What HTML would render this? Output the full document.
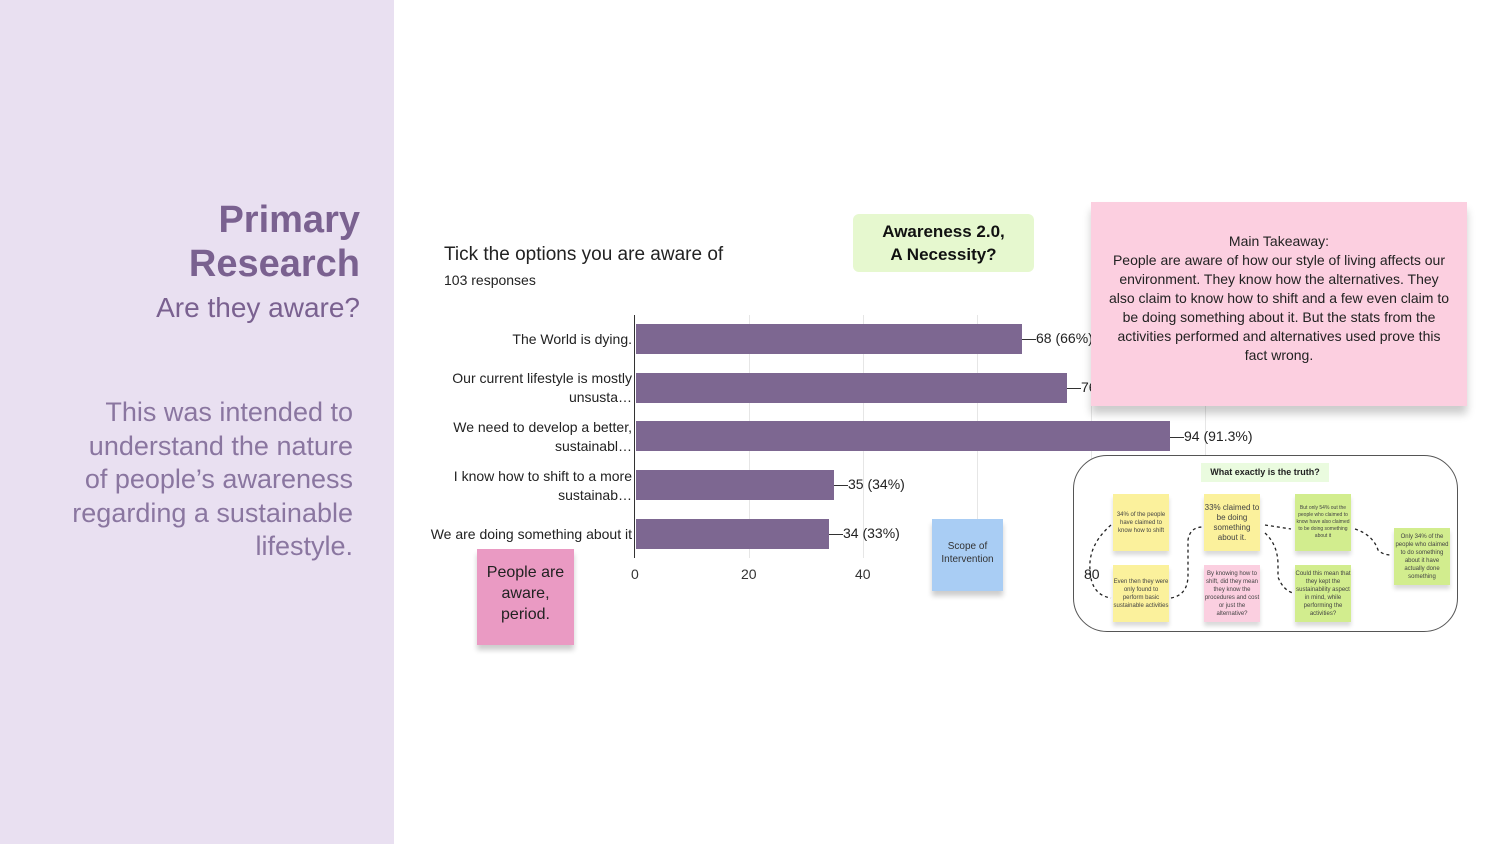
<!DOCTYPE html>
<html><head><style>
*{margin:0;padding:0;box-sizing:border-box}
body{width:1500px;height:844px;position:relative;background:#fff;font-family:"Liberation Sans",sans-serif;overflow:hidden}
.a{position:absolute}
.side{left:0;top:0;width:394px;height:844px;background:#e9e0f1}
.r{text-align:right}
.bar{position:absolute;left:636px;height:30px;background:#7d6791}
.lbl{position:absolute;right:868px;font-size:14px;color:#222;text-align:right;line-height:19px}
.val{position:absolute;font-size:14px;color:#222}
.tick{position:absolute;top:566px;font-size:14px;color:#333}
.grid{position:absolute;top:315px;width:1px;height:243px;background:#e6e6e6}
.n{position:absolute;font-size:6px;color:#444;text-align:center;display:flex;align-items:center;justify-content:center;line-height:8px;box-shadow:0 4px 4px rgba(0,0,0,.15)}
</style></head><body>
<div class="a side"></div>
<div class="a r" style="right:1140px;top:198px;font-size:38px;font-weight:bold;color:#7a6190;line-height:44px">Primary<br>Research</div>
<div class="a r" style="right:1140px;top:292px;font-size:28px;color:#7a6190">Are they aware?</div>
<div class="a r" style="right:1147px;top:396px;font-size:27px;color:#8a76a0;line-height:33.5px;font-weight:300">This was intended to<br>understand the nature<br>of people’s awareness<br>regarding a sustainable<br>lifestyle.</div>

<div class="a" style="left:444px;top:244px;font-size:19px;color:#222">Tick the options you are aware of</div>
<div class="a" style="left:444px;top:272px;font-size:14px;color:#222">103 responses</div>

<div class="grid" style="left:749px"></div><div class="grid" style="left:863px"></div><div class="grid" style="left:977px"></div><div class="grid" style="left:1091px"></div><div class="grid" style="left:1205px"></div>
<div class="a" style="left:634px;top:315px;width:1px;height:243px;background:#333"></div>

<div class="bar" style="top:324px;width:386px"></div>
<div class="bar" style="top:373px;width:431px"></div>
<div class="bar" style="top:421px;width:534px"></div>
<div class="bar" style="top:470px;width:198px"></div>
<div class="bar" style="top:519px;width:193px"></div>

<div class="lbl" style="top:330px">The World is dying.</div>
<div class="lbl" style="top:369px">Our current lifestyle is mostly<br>unsusta…</div>
<div class="lbl" style="top:418px">We need to develop a better,<br>sustainabl…</div>
<div class="lbl" style="top:467px">I know how to shift to a more<br>sustainab…</div>
<div class="lbl" style="top:525px">We are doing something about it</div>

<div class="val" style="left:1022px;top:330px">—68 (66%)</div>
<div class="val" style="left:1067px;top:379px">—76 (73.8%)</div>
<div class="val" style="left:1170px;top:428px">—94 (91.3%)</div>
<div class="val" style="left:834px;top:476px">—35 (34%)</div>
<div class="val" style="left:829px;top:525px">—34 (33%)</div>

<div class="tick" style="left:631px">0</div>
<div class="tick" style="left:741px">20</div>
<div class="tick" style="left:855px">40</div>

<div class="a" style="left:853px;top:214px;width:181px;height:58px;background:#e6f8cf;border-radius:6px;font-size:17px;font-weight:bold;text-align:center;color:#111;padding-top:6px;line-height:23px">Awareness 2.0,<br>A Necessity?</div>

<div class="a" style="left:1091px;top:202px;width:376px;height:204px;background:#fccfe0;box-shadow:0 8px 8px rgba(0,0,0,.2);font-size:14px;color:#222;text-align:center;line-height:19px;padding:30px 16px 0">Main Takeaway:<br>People are aware of how our style of living affects our environment. They know how the alternatives. They also claim to know how to shift and a few even claim to be doing something about it. But the stats from the activities performed and alternatives used prove this fact wrong.</div>

<div class="a" style="left:477px;top:549px;width:97px;height:96px;background:#ea9ac3;box-shadow:0 5px 5px rgba(0,0,0,.2);font-size:16px;color:#222;text-align:center;line-height:21px;padding-top:13px">People are<br>aware,<br>period.</div>
<div class="a" style="left:932px;top:519px;width:71px;height:72px;background:#a9cdf4;box-shadow:0 5px 5px rgba(0,0,0,.2);font-size:10px;color:#333;text-align:center;line-height:13px;padding-top:21px">Scope of<br>Intervention</div>

<div class="a" style="left:1073px;top:455px;width:385px;height:177px;border:1.5px solid #555;border-radius:34px;background:#fff"></div>
<div class="a" style="left:1201px;top:463px;width:128px;height:19px;background:#eafbdf;font-size:9px;font-weight:bold;text-align:center;line-height:19px;color:#222">What exactly is the truth?</div>
<div class="a" style="left:1084px;top:566px;font-size:14px;color:#222">80</div>
<svg class="a" style="left:1073px;top:455px" width="385" height="177"><g fill="none" stroke="#222" stroke-dasharray="3,3" stroke-width="1.3">
<path d="M38 70 Q15 90 17 115 Q18 140 38 143"/><path d="M98 143 Q115 140 115 120 L115 85 Q117 72 130 72"/><path d="M192 70 L218 74"/><path d="M192 78 Q205 90 205 110 L205 122 Q210 135 220 138"/><path d="M282 74 Q300 80 305 95 Q310 100 318 100"/></g></svg>
<div class="n" style="left:1113px;top:494px;width:56px;height:57px;background:#fbf19c">34% of the people have claimed to know how to shift</div>
<div class="n" style="left:1204px;top:494px;width:56px;height:57px;background:#fbf19c;font-size:8px;line-height:10px">33% claimed to be doing something about it.</div>
<div class="n" style="left:1295px;top:494px;width:56px;height:57px;background:#d2ed8e;font-size:5px;line-height:7px">But only 54% out the people who claimed to know have also claimed to be doing something about it</div>
<div class="n" style="left:1394px;top:528px;width:56px;height:57px;background:#d2ed8e">Only 34% of the people who claimed to do something about it have actually done something</div>
<div class="n" style="left:1113px;top:565px;width:56px;height:57px;background:#fbf19c">Even then they were only found to perform basic sustainable activities</div>
<div class="n" style="left:1204px;top:565px;width:56px;height:57px;background:#fbcfe0">By knowing how to shift, did they mean they know the procedures and cost or just the alternative?</div>
<div class="n" style="left:1295px;top:565px;width:56px;height:57px;background:#d2ed8e">Could this mean that they kept the sustainability aspect in mind, while performing the activities?</div>
</body></html>
